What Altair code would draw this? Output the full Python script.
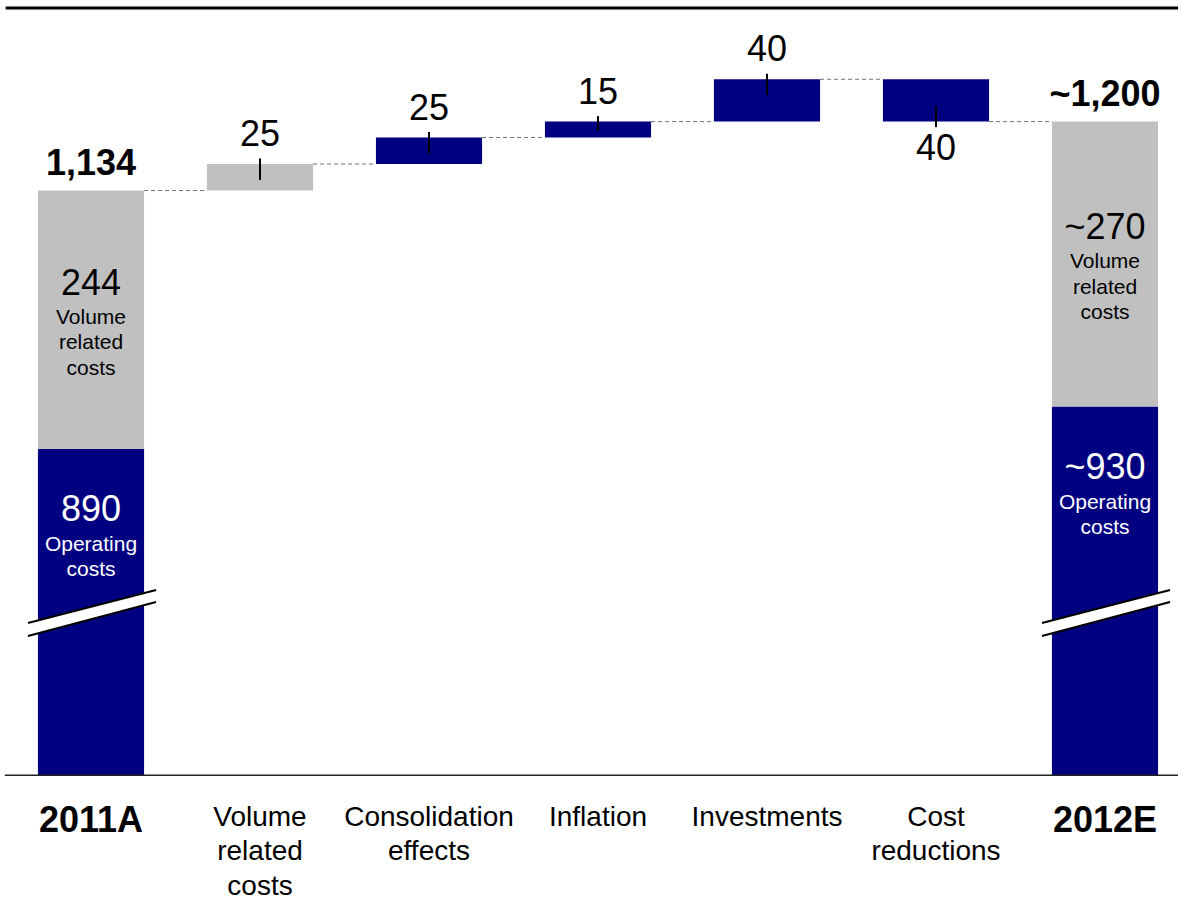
import altair as alt
import pandas as pd

# ---------------- data ----------------
categories = ["2011A", "Volume\nrelated\ncosts", "Consolidation\neffects", "Inflation",
              "Investments", "Cost\nreductions", "2012E"]
start_operating = 890
start_volume = 244
start_total = start_operating + start_volume          # 1,134
deltas = [25, 25, 15, 40, -40]
delta_kinds = ["Volume related", "Operating", "Operating", "Operating", "Operating"]
end_operating = 930
end_volume_label = "~270"
end_operating_label = "~930"
end_total_label = "~1,200"
start_total_label = "1,134"
segment_texts = {"Volume related": "Volume\nrelated\ncosts", "Operating": "Operating\ncosts"}
axis_floor = 582      # value shown at the (broken) base line

# ---------------- layout / style constants ----------------
W, H = 1178, 900
X_DOMAIN = [-0.5385, 6.432]
Y_DOMAIN = [464.3, 1313.8]
BAR_HALF = 0.314
NAVY = "#000080"
GREY = "#C0C0C0"
FONT = "Liberation Sans"
BREAK_X = [-0.373, 0.385]
BREAK_LO = [713.5, 745.6]
BREAK_HI = [725.7, 756.9]
TOP_RULE = 1306.3
CAT_LABEL_Y = 555

xs = alt.Scale(domain=X_DOMAIN, nice=False, zero=False)
ys = alt.Scale(domain=Y_DOMAIN, nice=False, zero=False)


def X(f):
    return alt.X(f, type="quantitative", scale=xs, axis=None)


def Y(f):
    return alt.Y(f, type="quantitative", scale=ys, axis=None)


n = len(categories)
levels = [start_total]
for d in deltas:
    levels.append(levels[-1] + d)
end_total = levels[-1]

# bars
bars = [
    dict(i=0, lo=axis_floor, hi=start_operating, kind="Operating"),
    dict(i=0, lo=start_operating, hi=start_total, kind="Volume related"),
]
for k, d in enumerate(deltas):
    bars.append(dict(i=k + 1, lo=min(levels[k], levels[k + 1]),
                     hi=max(levels[k], levels[k + 1]), kind=delta_kinds[k]))
bars.append(dict(i=n - 1, lo=axis_floor, hi=end_operating, kind="Operating"))
bars.append(dict(i=n - 1, lo=end_operating, hi=end_total, kind="Volume related"))
df_bars = pd.DataFrame(bars)
df_bars["xa"] = df_bars["i"] - BAR_HALF
df_bars["xb"] = df_bars["i"] + BAR_HALF

bar_layer = alt.Chart(df_bars).mark_rect().encode(
    x=X("xa"), x2="xb", y=Y("lo"), y2="hi",
    color=alt.Color("kind:N", scale=alt.Scale(domain=["Operating", "Volume related"],
                                              range=[NAVY, GREY]), legend=None),
)

# connectors
df_conn = pd.DataFrame([dict(xa=k + BAR_HALF, xb=k + 1 - BAR_HALF, lvl=levels[k])
                        for k in range(n - 1)])
conn_layer = alt.Chart(df_conn).mark_rule(color="#707070", strokeWidth=1,
                                          strokeDash=[4, 3]).encode(
    x=X("xa"), x2="xb", y=Y("lvl"))

# delta labels & ticks
rows = []
for k, d in enumerate(deltas):
    edge = levels[k + 1]
    inside = min(15, 0.6 * abs(d))
    sgn = 1 if d > 0 else -1
    rows.append(dict(i=k + 1, edge=edge, t1=edge + sgn * 5.2, t2=edge - sgn * inside,
                     label=str(abs(d)), pos=d > 0))
df_delta = pd.DataFrame(rows)
tick_layer = alt.Chart(df_delta).mark_rule(color="black", strokeWidth=2).encode(
    x=X("i"), y=Y("t1"), y2="t2")
txt_up = alt.Chart(df_delta[df_delta.pos]).mark_text(
    font=FONT, fontSize=36, dy=-29, baseline="middle", color="black").encode(
    x=X("i"), y=Y("edge"), text="label:N")
txt_dn = alt.Chart(df_delta[~df_delta.pos]).mark_text(
    font=FONT, fontSize=36, dy=27, baseline="middle", color="black").encode(
    x=X("i"), y=Y("edge"), text="label:N")

# totals
df_tot = pd.DataFrame([dict(i=0, v=start_total, label=start_total_label),
                       dict(i=n - 1, v=end_total, label=end_total_label)])
tot_layer = alt.Chart(df_tot).mark_text(
    font=FONT, fontSize=36, fontWeight="bold", dy=-26.5, baseline="middle").encode(
    x=X("i"), y=Y("v"), text="label:N")

# in-bar segment labels
df_up = pd.DataFrame([
    dict(i=0, mid=(start_operating + start_total) / 2, num=str(start_volume),
         desc=segment_texts["Volume related"]),
    dict(i=n - 1, mid=(end_operating + end_total) / 2, num=end_volume_label,
         desc=segment_texts["Volume related"]),
])
up_num = alt.Chart(df_up).mark_text(font=FONT, fontSize=36, dy=-36, baseline="middle",
                                    color="black").encode(x=X("i"), y=Y("mid"), text="num:N")
up_desc = alt.Chart(df_up).mark_text(font=FONT, fontSize=21, dy=-2, baseline="middle",
                                     lineBreak="\n", lineHeight=25.5, color="black").encode(
    x=X("i"), y=Y("mid"), text="desc:N")

df_lo = pd.DataFrame([
    dict(i=0, top=start_operating, num=str(start_operating), desc=segment_texts["Operating"]),
    dict(i=n - 1, top=end_operating, num=end_operating_label, desc=segment_texts["Operating"]),
])
lo_num = alt.Chart(df_lo).mark_text(font=FONT, fontSize=36, dy=61, baseline="middle",
                                    color="white").encode(x=X("i"), y=Y("top"), text="num:N")
lo_desc = alt.Chart(df_lo).mark_text(font=FONT, fontSize=21, dy=96, baseline="middle",
                                     lineBreak="\n", lineHeight=25.5, color="white").encode(
    x=X("i"), y=Y("top"), text="desc:N")

# break marks
brk = []
for i in [0, n - 1]:
    for bx, blo, bhi in zip(BREAK_X, BREAK_LO, BREAK_HI):
        brk.append(dict(bar=i, bx=i + bx, blo=blo, bhi=bhi))
df_brk = pd.DataFrame(brk)
brk_area = alt.Chart(df_brk).mark_area(color="white", opacity=1).encode(
    x=X("bx"), y=Y("blo"), y2="bhi", detail="bar:N")
brk_line1 = alt.Chart(df_brk).mark_line(color="black", strokeWidth=2).encode(
    x=X("bx"), y=Y("blo"), detail="bar:N")
brk_line2 = alt.Chart(df_brk).mark_line(color="black", strokeWidth=2).encode(
    x=X("bx"), y=Y("bhi"), detail="bar:N")

# frame lines
df_frame = pd.DataFrame([dict(xa=-0.505, xb=X_DOMAIN[1], v=TOP_RULE, w="top"),
                         dict(xa=-0.51, xb=X_DOMAIN[1], v=axis_floor, w="base")])
top_rule = alt.Chart(df_frame[df_frame.w == "top"]).mark_rule(color="black", strokeWidth=3).encode(
    x=X("xa"), x2="xb", y=Y("v"))
base_rule = alt.Chart(df_frame[df_frame.w == "base"]).mark_rule(color="#222222", strokeWidth=1.5).encode(
    x=X("xa"), x2="xb", y=Y("v"))

# category labels
df_cat = pd.DataFrame([dict(i=k, label=c, v=CAT_LABEL_Y) for k, c in enumerate(categories)])
cat_bold = alt.Chart(df_cat[df_cat.i.isin([0, n - 1])]).mark_text(
    font=FONT, fontSize=36, fontWeight="bold", baseline="top").encode(
    x=X("i"), y=Y("v"), text="label:N")
cat_norm = alt.Chart(df_cat[~df_cat.i.isin([0, n - 1])]).mark_text(
    font=FONT, fontSize=28, baseline="top", lineBreak="\n", lineHeight=34.5).encode(
    x=X("i"), y=Y("v"), text="label:N")

chart = alt.layer(
    bar_layer, conn_layer, base_rule, top_rule, brk_area, brk_line1, brk_line2,
    tick_layer, txt_up, txt_dn, tot_layer, up_num, up_desc, lo_num, lo_desc,
    cat_bold, cat_norm,
).properties(
    width=W, height=H, autosize=alt.AutoSizeParams(type="none"), padding=0,
    background="white",
).configure_view(stroke=None)

chart.save("out.html", embed_options={"renderer": "svg", "actions": False})
